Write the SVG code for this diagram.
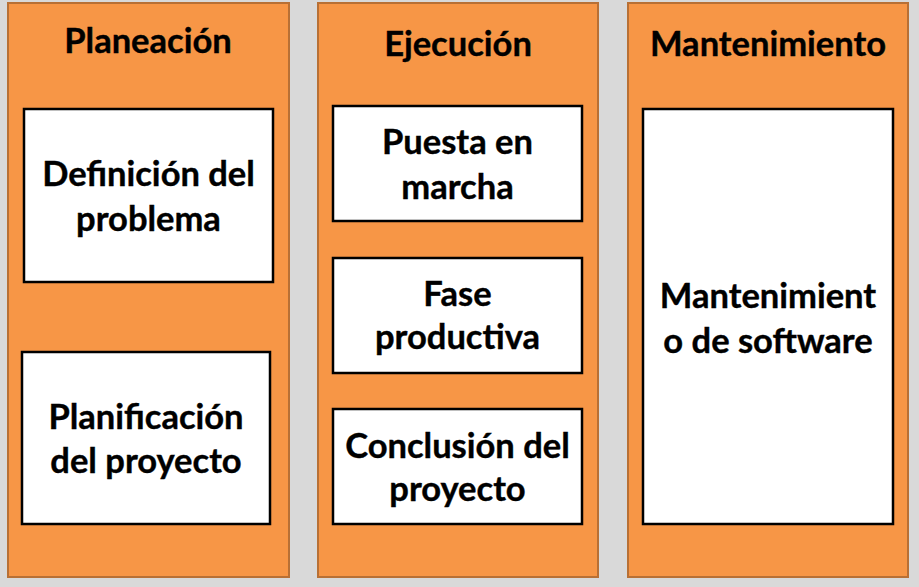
<svg xmlns="http://www.w3.org/2000/svg" width="919" height="587" viewBox="0 0 919 587">
<style>
.col{fill:#f79646;stroke:#b87035;stroke-width:2}
.box{fill:#ffffff;stroke:#000000;stroke-width:2.5}
text{font-family:Lato,"Open Sans","Liberation Sans",sans-serif;font-weight:bold;font-size:34.5px;fill:#000000;text-anchor:middle;stroke:#000000;stroke-width:0.4}
</style>
<rect x="0" y="0" width="919" height="587" fill="#d9d9d9"/>
<g id="col-planeacion">
<rect class="col" x="8" y="3" width="281" height="574"/>
<text x="148" y="53">Planeación</text>
</g>
<g id="col-ejecucion">
<rect class="col" x="318" y="3" width="280" height="574"/>
<text x="458" y="56">Ejecución</text>
</g>
<g id="col-mantenimiento">
<rect class="col" x="628" y="3" width="280" height="574"/>
<text x="768" y="56">Mantenimiento</text>
</g>
<g id="definicion">
<rect class="box" x="24" y="109" width="249" height="173"/>
<text x="148.5" y="186">Definición del</text>
<text x="148.5" y="231">problema</text>
</g>
<g id="planificacion">
<rect class="box" x="22" y="352" width="248" height="172"/>
<text x="146" y="429">Planificación</text>
<text x="146" y="473">del proyecto</text>
</g>
<g id="puesta">
<rect class="box" x="333" y="106" width="249" height="115"/>
<text x="457.5" y="154">Puesta en</text>
<text x="457.5" y="199">marcha</text>
</g>
<g id="fase">
<rect class="box" x="333" y="258" width="249" height="115"/>
<text x="457.5" y="306">Fase</text>
<text x="457.5" y="349">productiva</text>
</g>
<g id="conclusion">
<rect class="box" x="333" y="409" width="249" height="115"/>
<text x="457.5" y="458">Conclusión del</text>
<text x="457.5" y="501">proyecto</text>
</g>
<g id="mant-software">
<rect class="box" x="643" y="109" width="250" height="415"/>
<text x="768" y="308">Mantenimient</text>
<text x="768" y="353">o de software</text>
</g>
<g id="connectors"></g>
</svg>
